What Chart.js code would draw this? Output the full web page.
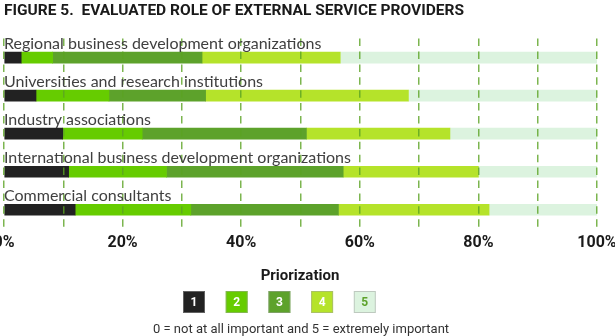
<!DOCTYPE html>
<html>
<head>
<meta charset="utf-8">
<script src="https://cdn.jsdelivr.net/npm/chart.js@4"></script>
<style>
  html, body { margin: 0; padding: 0; background: #fff; }
  canvas { display: block; }
</style>
</head>
<body>
<canvas id="chart" width="615" height="336"></canvas>
<script>
const categories = [
    "Regional business development organizations",
    "Universities and research institutions",
    "Industry associations",
    "International business development organizations",
    "Commercial consultants",
]
const levels = ["1", "2", "3", "4", "5"]
const rated1 = [2.9, 5.4, 9.9, 10.9, 12.0]
const rated2 = [5.3, 12.3, 13.4, 16.5, 19.5]
const rated3 = [25.2, 16.3, 27.7, 29.8, 24.9]
const rated4 = [23.3, 34.2, 24.2, 22.8, 25.4]
const rated5 = [43.3, 31.8, 24.8, 20.0, 18.2]
const shownTicks = [0, 20, 40, 60, 80, 100]

const colors = ["#222222", "#66CC00", "#5DA22B", "#B5E32A", "#DCF3DF"]
const legendText = ["#ffffff", "#ffffff", "#ffffff", "#ffffff", "#5DA22B"]

// category names sit just above each bar
const barLabels = {
    id: 'barLabels',
    afterDraw(chart) {
        const ctx = chart.ctx
        const y = chart.scales.y
        ctx.save()
        ctx.font = '16px Lato'
        ctx.fillStyle = '#404040'
        ctx.textAlign = 'left'
        ctx.textBaseline = 'alphabetic'
        categories.forEach((name, i) => {
            ctx.fillText(name, chart.chartArea.left, y.getPixelForValue(i) - 5.5 - 3)
        })
        ctx.restore()
    }
}

// "Priorization" legend with numbered boxes
const priorLegend = {
    id: 'priorLegend',
    afterDraw(chart) {
        const ctx = chart.ctx
        ctx.save()
        ctx.textAlign = 'center'
        ctx.textBaseline = 'middle'
        ctx.fillStyle = '#1a1a1a'
        ctx.font = 'bold 15px Roboto'
        ctx.fillText('Priorization', 300, 276)
        chart.data.datasets.forEach((ds, i) => {
            const x = 183 + i * 42.7
            ctx.fillStyle = ds.backgroundColor
            ctx.fillRect(x, 291, 22, 22)
            ctx.strokeStyle = 'rgba(160,160,160,0.5)'
            ctx.lineWidth = 1
            ctx.strokeRect(x + 0.5, 291.5, 21, 21)
            ctx.fillStyle = legendText[i]
            ctx.font = 'bold 12px Roboto'
            ctx.fillText(ds.label, x + 11, 302.5)
        })
        ctx.fillStyle = '#333333'
        ctx.font = '13px Roboto'
        ctx.fillText('0 = not at all important and 5 = extremely important', 301, 330)
        ctx.restore()
    }
}

const series = [rated1, rated2, rated3, rated4, rated5]

new Chart(document.getElementById('chart'), {
    type: 'bar',
    data: {
        labels: categories,
        datasets: series.map((values, i) => ({
            label: levels[i],
            data: values,
            backgroundColor: colors[i],
            borderWidth: 0,
            barThickness: 11,
        }))
    },
    options: {
        indexAxis: 'y',
        responsive: false,
        animation: false,
        layout: {
            autoPadding: false,
            padding: { left: 4, right: 18, top: 0, bottom: 78 }
        },
        plugins: {
            legend: { display: false },
            tooltip: { enabled: false },
            title: {
                display: true,
                text: 'FIGURE 5.  EVALUATED ROLE OF EXTERNAL SERVICE PROVIDERS',
                align: 'start',
                color: '#1a1a1a',
                font: { family: 'Roboto', size: 15.5, weight: 'bold' },
                padding: { top: 1.5, bottom: 18.5 }
            }
        },
        scales: {
            x: {
                stacked: true,
                min: 0,
                max: 100,
                border: { display: false, dash: [7.5, 5.4] },
                grid: {
                    z: 1,
                    color: 'rgba(91,163,35,0.8)',
                    lineWidth: 1.5,
                    drawTicks: false,
                },
                ticks: {
                    stepSize: 10,
                    autoSkip: false,
                    maxRotation: 0,
                    padding: 5,
                    color: '#1a1a1a',
                    font: { family: 'Roboto', size: 16, weight: 'bold' },
                    callback: (v) => shownTicks.includes(v) ? v + '%' : ''
                },
                afterFit(scale) {
                    // let the 0% label run off the edge like the original
                    scale.paddingLeft = 0
                    scale.paddingRight = 0
                }
            },
            y: {
                stacked: true,
                display: false,
            }
        }
    },
    plugins: [barLabels, priorLegend]
})
</script>
</body>
</html>
